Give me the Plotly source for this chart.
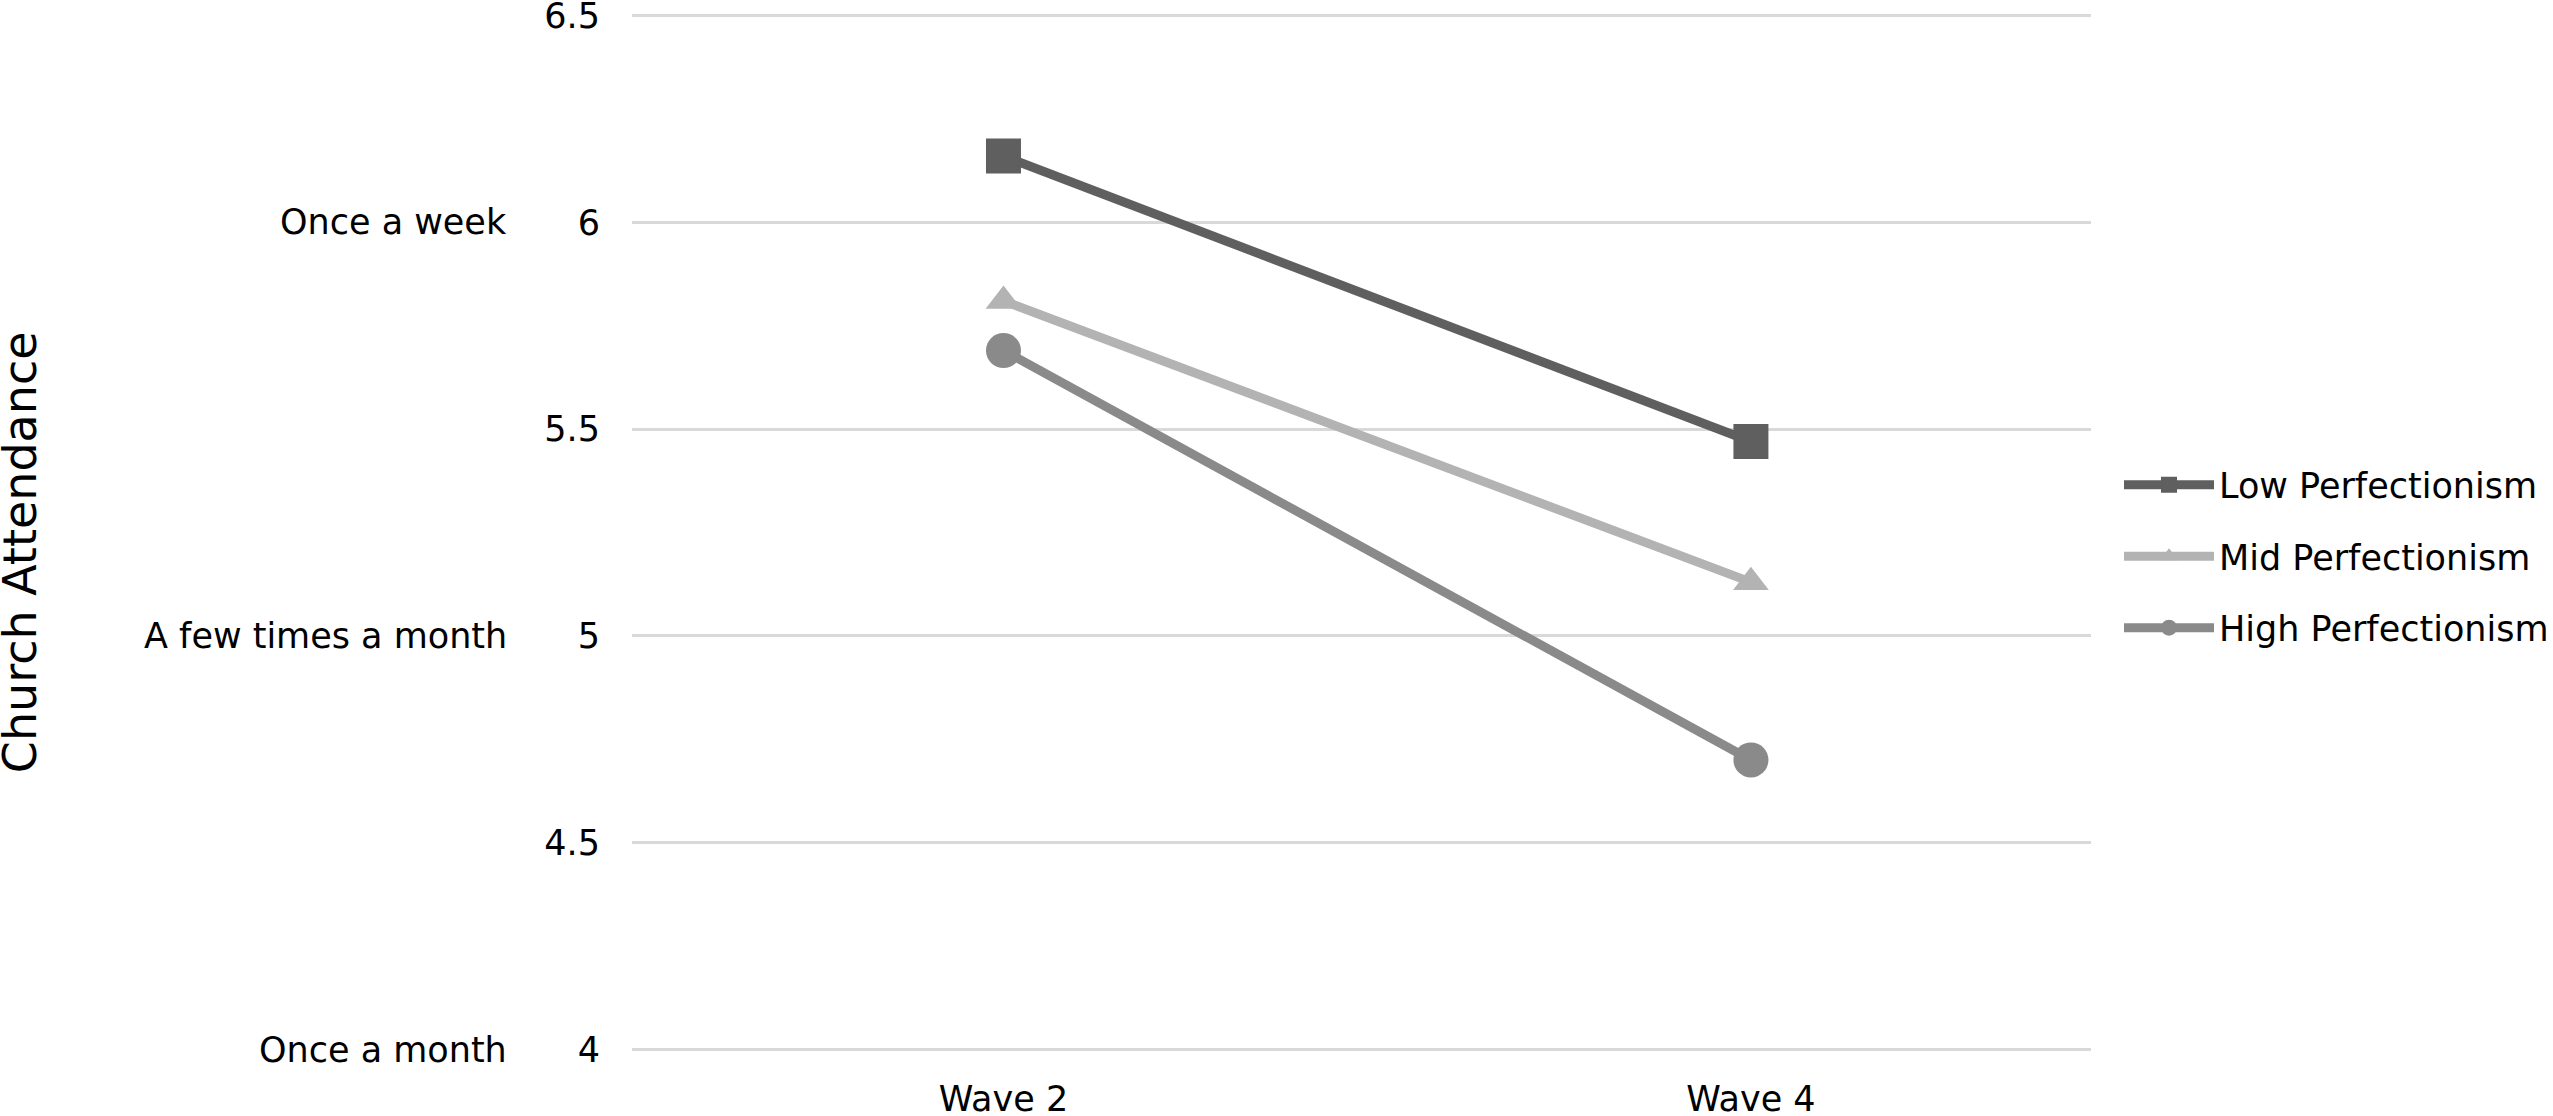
"""Church attendance by perfectionism level, wave 2 vs wave 4."""

import plotly.graph_objects as go

waves = ["Wave 2", "Wave 4"]
low_perf = [6.16, 5.47]
mid_perf = [5.81, 5.13]
high_perf = [5.69, 4.70]

series_names = ["Low Perfectionism", "Mid Perfectionism", "High Perfectionism"]
series_values = [low_perf, mid_perf, high_perf]
series_colors = ["#5f5f5f", "#b3b3b3", "#8a8a8a"]
series_symbols = ["square", "triangle-up", "circle"]
series_sizes = [35, 31, 35]

y_ticks = [4, 4.5, 5, 5.5, 6, 6.5]
freq_values = [6, 5, 4]
freq_labels = ["Once a week", "A few times a month", "Once a month"]

FONT = "DejaVu Sans"

fig = go.Figure()

for name, vals, color, sym, size in zip(series_names, series_values,
                                        series_colors, series_symbols, series_sizes):
    fig.add_trace(go.Scatter(
        x=waves,
        y=vals,
        name=name,
        legendgroup=name,
        mode="lines+markers",
        line=dict(color=color, width=9),
        marker=dict(symbol=sym, size=size, color=color),
    ))

for val, label in zip(freq_values, freq_labels):
    fig.add_annotation(
        text=label, xref="paper", yref="y", x=-0.0843, y=val,
        xanchor="right", yanchor="middle", showarrow=False,
        font=dict(family=FONT, size=35, color="#000000"),
    )

fig.add_annotation(
    text="Church Attendance", xref="paper", yref="paper",
    x=-0.4195, y=0.481, xanchor="center", yanchor="middle",
    textangle=-90, showarrow=False,
    font=dict(family=FONT, size=46, color="#000000"),
)

fig.update_layout(
    width=2553,
    height=1116,
    plot_bgcolor="#ffffff",
    paper_bgcolor="#ffffff",
    font=dict(family=FONT, size=35, color="#000000"),
    margin=dict(l=632, r=462, t=13, b=64, autoexpand=False),
    showlegend=True,
    legend=dict(
        x=1.0192, y=0.477, xanchor="left", yanchor="middle",
        font=dict(family=FONT, size=35, color="#000000"),
        itemwidth=90,
        tracegroupgap=23,
        traceorder="grouped",
        bgcolor="rgba(0,0,0,0)",
    ),
    xaxis=dict(
        type="category",
        range=[-0.497, 1.455],
        automargin=False,
        showgrid=False,
        zeroline=False,
        showline=False,
        ticks="",
        ticklabelstandoff=23,
        tickfont=dict(family=FONT, size=35, color="#000000"),
    ),
    yaxis=dict(
        range=[3.994, 6.506],
        tickvals=y_ticks,
        automargin=False,
        ticklabeloverflow="allow",
        showgrid=True,
        gridcolor="#d9d9d9",
        gridwidth=3,
        zeroline=False,
        showline=False,
        ticks="",
        ticklabelstandoff=31,
        tickfont=dict(family=FONT, size=35, color="#000000"),
    ),
)

# the page's default 8px body margin would shift and clip the figure
fig.write_html(
    "out.html",
    config={"displayModeBar": False},
    post_script="document.body.style.margin = '0';",
)
